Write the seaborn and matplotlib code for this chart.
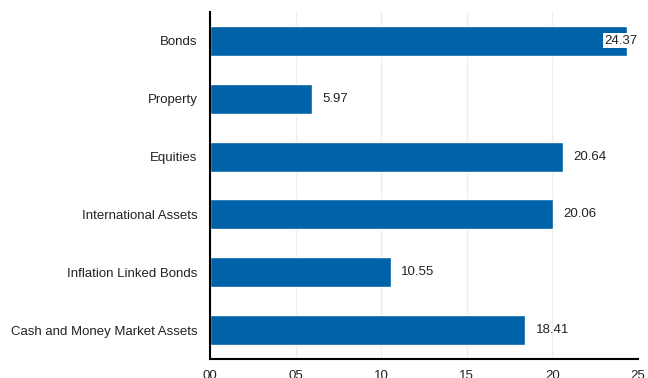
import matplotlib
matplotlib.use("Agg")
import matplotlib.pyplot as plt
import seaborn as sns
import pandas as pd

categories = ["Bonds", "Property", "Equities", "International Assets",
              "Inflation Linked Bonds", "Cash and Money Market Assets"]
values = [24.37, 5.97, 20.64, 20.06, 10.55, 18.41]
tick_values = [0, 5, 10, 15, 20, 25]
tick_labels = ["00", "05", "10", "15", "20", "25"]

sns.set_theme(style="white")
plt.rcParams["font.family"] = ["Liberation Sans", "DejaVu Sans"]

df = pd.DataFrame({"category": categories, "value": values})

fig = plt.figure(figsize=(6.48, 3.78), dpi=100)
ax = fig.add_axes([0.324, 0.0503, 0.6606, 0.9180])
sns.barplot(data=df, x="value", y="category", orient="h", color="#0062a8",
            width=0.52, saturation=1, ax=ax)

ax.set_xlim(0, 25)
ax.set_ylim(5.5, -0.5)
ax.set_xticks(tick_values)
ax.set_xticklabels(tick_labels)
ax.set_xlabel("")
ax.set_ylabel("")
ax.xaxis.grid(True, color="#eeeeee", linewidth=1)
ax.set_axisbelow(True)
for s in ["top", "right"]:
    ax.spines[s].set_visible(False)
for s in ["left", "bottom"]:
    ax.spines[s].set_color("black")
    ax.spines[s].set_linewidth(1.5)
ax.tick_params(axis="x", length=0, pad=8, labelsize=9.5, colors="#222222")
ax.tick_params(axis="y", length=0, pad=9, labelsize=9.5, colors="#222222")

for i, v in enumerate(values):
    if v + 3 > 25:
        ax.text(24.95, i, f"{v:.2f}", ha="right", va="center", fontsize=9.5,
                color="#222222",
                bbox=dict(facecolor="white", edgecolor="none", pad=1))
    else:
        ax.text(v + 0.6, i, f"{v:.2f}", ha="left", va="center", fontsize=9.5,
                color="#222222")

fig.savefig("out.png", dpi=100)
